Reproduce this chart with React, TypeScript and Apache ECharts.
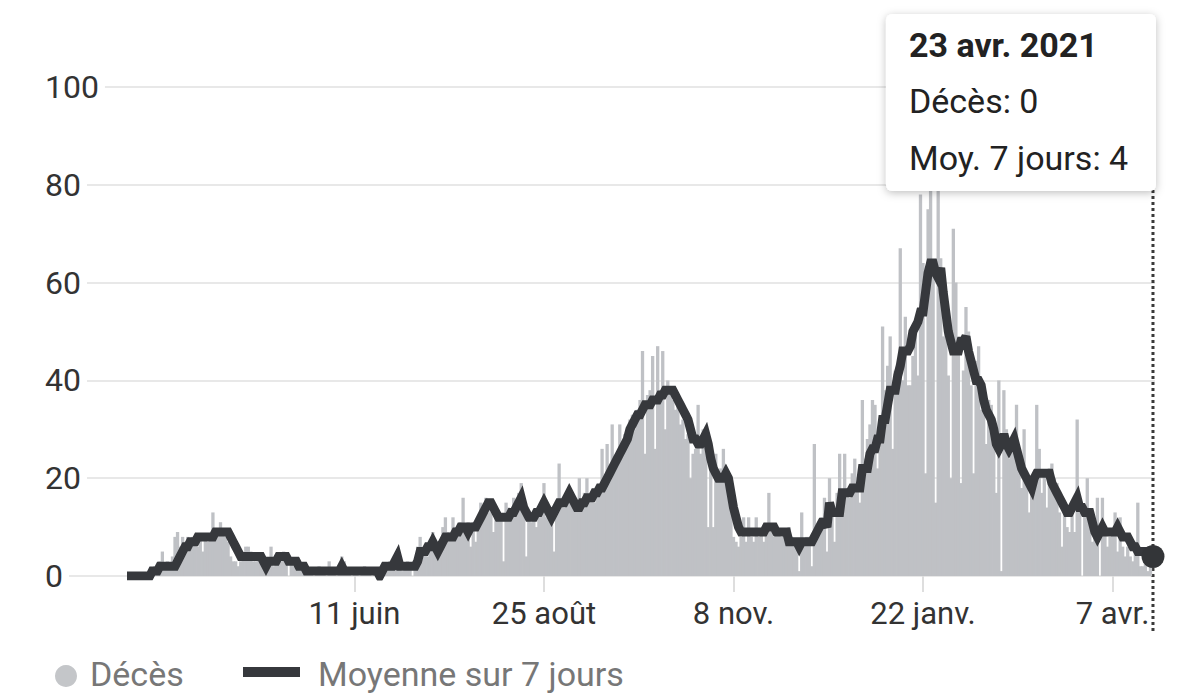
import React, { useEffect, useRef } from "react";
import * as echarts from "echarts";

// ---- data ----
const START_DATE = "2020-03-13";

const DAILY_DEATHS = [
  0, 0, 0, 0, 0, 0, 0, 0, 0, 0,
  1, 2, 1, 3, 5, 2, 3, 2, 4, 8,
  9, 6, 8, 7, 8, 7, 8, 7, 6, 8,
  5, 8, 7, 8, 13, 8, 9, 11, 9, 8,
  7, 4, 3, 3, 2, 3, 4, 6, 6, 5,
  3, 3, 4, 3, 2, 1, 3, 6, 2, 3,
  4, 3, 5, 3, 0, 3, 2, 3, 2, 2,
  1, 2, 1, 1, 0, 1, 2, 1, 1, 0,
  3, 1, 1, 0, 1, 4, 3, 1, 1, 0,
  1, 1, 0, 1, 2, 1, 1, 0, 1, 0,
  0, 2, 1, 2, 3, 2, 4, 5, 2, 1,
  2, 3, 2, 0, 3, 6, 8, 5, 6, 4,
  7, 9, 5, 6, 7, 10, 12, 9, 8, 12,
  10, 9, 11, 16, 10, 11, 6, 11, 7, 12,
  15, 14, 16, 13, 15, 9, 14, 13, 12, 3,
  15, 14, 12, 16, 14, 17, 19, 15, 4, 13,
  11, 12, 10, 14, 13, 19, 12, 14, 13, 5,
  14, 23, 15, 14, 16, 18, 15, 16, 14, 20,
  15, 17, 20, 16, 17, 15, 18, 17, 26, 19,
  27, 22, 31, 24, 25, 31, 27, 29, 30, 32,
  33, 30, 34, 36, 46, 25, 37, 38, 45, 26,
  47, 38, 46, 30, 40, 38, 36, 34, 37, 31,
  32, 28, 29, 20, 25, 26, 35, 25, 30, 27,
  10, 22, 10, 25, 21, 22, 26, 19, 20, 15,
  8, 7, 6, 8, 12, 7, 12, 8, 7, 12,
  8, 9, 7, 10, 17, 9, 8, 10, 9, 8,
  9, 7, 10, 8, 7, 6, 1, 13, 7, 8,
  8, 2, 27, 10, 11, 12, 16, 5, 20, 15,
  7, 17, 25, 15, 25, 18, 16, 21, 24, 19,
  15, 36, 24, 28, 31, 36, 35, 22, 30, 51,
  38, 43, 49, 26, 42, 40, 67, 40, 53, 39,
  39, 45, 52, 41, 78, 64, 21, 75, 84, 62,
  15, 80, 65, 49, 55, 41, 20, 71, 60, 46,
  19, 42, 55, 50, 39, 21, 44, 47, 34, 38,
  27, 36, 35, 30, 17, 40, 1, 38, 30, 24,
  26, 28, 35, 24, 18, 30, 20, 13, 17, 20,
  35, 26, 17, 21, 14, 22, 23, 20, 19, 13,
  6, 15, 10, 9, 14, 9, 32, 13, 0, 14,
  20, 12, 7, 10, 16, 0, 16, 9, 6, 8,
  9, 13, 5, 12, 6, 4, 6, 4, 3, 7,
  15, 2, 2, 3, 1, 3, 0,
];

const AVG_7_DAYS = [
  0, 0, 0, 0, 0, 0, 0, 0, 0, 0,
  1, 1, 1, 2, 2, 2, 2, 2, 2, 2,
  3, 4, 5, 6, 6, 7, 7, 7, 8, 8,
  8, 8, 8, 8, 8, 9, 9, 9, 9, 9,
  9, 8, 7, 6, 5, 4, 4, 4, 4, 4,
  4, 4, 4, 4, 3, 2, 3, 3, 3, 3,
  4, 4, 4, 4, 3, 3, 3, 3, 2, 2,
  2, 1, 1, 1, 1, 1, 1, 1, 1, 1,
  1, 1, 1, 1, 1, 2, 1, 1, 1, 1,
  1, 1, 1, 1, 1, 1, 1, 1, 1, 1,
  0, 1, 2, 2, 2, 2, 3, 4, 2, 2,
  2, 2, 2, 2, 2, 3, 5, 5, 5, 6,
  6, 7, 6, 5, 6, 7, 8, 8, 8, 8,
  9, 9, 10, 10, 10, 9, 10, 10, 10, 11,
  12, 13, 14, 15, 15, 14, 13, 12, 12, 12,
  12, 12, 13, 13, 14, 15, 16, 14, 13, 12,
  12, 12, 13, 13, 14, 15, 14, 13, 12, 13,
  14, 15, 15, 15, 16, 17, 16, 15, 14, 14,
  15, 15, 16, 16, 16, 17, 17, 18, 18, 19,
  20, 21, 22, 23, 24, 25, 26, 27, 28, 30,
  31, 32, 33, 33, 34, 35, 35, 35, 36, 36,
  36, 37, 37, 38, 38, 38, 38, 37, 36, 35,
  34, 33, 32, 30, 28, 28, 27, 27, 28, 29,
  27, 24, 22, 21, 20, 20, 20, 21, 20, 17,
  14, 12, 10, 9, 9, 9, 9, 9, 9, 9,
  9, 9, 9, 10, 10, 10, 10, 9, 9, 9,
  9, 9, 7, 7, 7, 7, 6, 7, 7, 7,
  7, 7, 8, 9, 10, 11, 11, 10, 15, 13,
  13, 13, 13, 17, 17, 17, 17, 18, 18, 18,
  18, 22, 22, 22, 25, 26, 26, 28, 28, 32,
  32, 35, 38, 38, 38, 41, 43, 46, 46, 46,
  47, 50, 51, 52, 54, 54, 58, 62, 64, 64,
  62, 61, 63, 58, 54, 50, 48, 46, 46, 46,
  48, 48, 49, 46, 44, 42, 40, 40, 39, 36,
  34, 33, 32, 30, 27, 26, 27, 29, 27, 26,
  27, 28, 26, 24, 22, 21, 20, 19, 18, 20,
  21, 21, 21, 21, 21, 21, 19, 18, 17, 16,
  15, 14, 13, 13, 14, 15, 16, 14, 14, 13,
  13, 13, 11, 9, 8, 9, 10, 9, 9, 9,
  9, 9, 10, 9, 8, 8, 8, 7, 6, 6,
  5, 5, 5, 5, 5, 5, 4,
];

const TICK_DATES = ["2020-06-11", "2020-08-25", "2020-11-08", "2021-01-22", "2021-04-07"];
const TICK_LABELS = ["11 juin", "25 août", "8 nov.", "22 janv.", "7 avr."];
const MONTHS_FR = ["janv.", "févr.", "mars", "avr.", "mai", "juin", "juil.", "août", "sept.", "oct.", "nov.", "déc."];
const SERIES_NAMES = ["Décès", "Moyenne sur 7 jours"];
const TOOLTIP_LABELS = ["Décès", "Moy. 7 jours"];

// ---- helpers ----
const DAY_MS = 86400000;
const startMs = Date.parse(START_DATE + "T00:00:00Z");
const dayIndex = (iso: string) => Math.round((Date.parse(iso + "T00:00:00Z") - startMs) / DAY_MS);
const TICK_DAYS = TICK_DATES.map(dayIndex);
const formatFr = (idx: number) => {
  const d = new Date(startMs + idx * DAY_MS);
  return `${d.getUTCDate()} ${MONTHS_FR[d.getUTCMonth()]} ${d.getUTCFullYear()}`;
};

const FONT = 'Roboto, "Noto Sans", sans-serif';
const BAR_COLOR = "#bfc1c5";
const LINE_COLOR = "#36383c";

export default function App() {
  const ref = useRef<HTMLDivElement | null>(null);

  useEffect(() => {
    if (!ref.current) return;
    const chart = echarts.init(ref.current, undefined, { renderer: "svg" });
    const last = DAILY_DEATHS.length - 1;

    const option: any = {
      animation: false,
      backgroundColor: "#ffffff",
      textStyle: { fontFamily: FONT },
      grid: { left: 45, right: 45, top: 87, bottom: 121, containLabel: false },
      xAxis: {
        type: "value",
        min: -32.45,
        max: 406.8,
        axisLine: { show: false },
        splitLine: { show: false },
        axisTick: {
          show: true,
          customValues: TICK_DAYS,
          length: 16,
          lineStyle: { color: "#dedede", width: 2 },
        },
        axisLabel: {
          customValues: TICK_DAYS,
          formatter: (v: number) => {
            const i = TICK_DAYS.indexOf(Math.round(v));
            return i >= 0 ? TICK_LABELS[i] : "";
          },
          fontSize: 31,
          color: "#333333",
          fontFamily: FONT,
          margin: 22,
        },
      },
      yAxis: {
        type: "value",
        min: 0,
        max: 100,
        interval: 20,
        axisLine: { show: false },
        axisTick: { show: false },
        splitLine: { show: true, lineStyle: { color: "#e8e8e8", width: 2 } },
        axisLabel: {
          inside: true,
          margin: 0,
          fontSize: 32,
          color: "#333333",
          fontFamily: FONT,
          backgroundColor: "#ffffff",
          padding: [2, 6, 2, 0],
          verticalAlign: "middle",
        },
      },
      series: [
        {
          name: SERIES_NAMES[0],
          type: "bar",
          data: DAILY_DEATHS.map((v, i) => [i, v]),
          barWidth: 3.3,
          itemStyle: { color: BAR_COLOR },
          z: 2,
        },
        {
          name: SERIES_NAMES[1],
          type: "line",
          data: AVG_7_DAYS.map((v, i) => [i, v]),
          showSymbol: false,
          lineStyle: { color: LINE_COLOR, width: 9, join: "miter", miterLimit: 3 },
          z: 3,
        },
        {
          type: "scatter",
          data: [[last, AVG_7_DAYS[last]]],
          symbolSize: 23,
          itemStyle: { color: "#333538", opacity: 1 },
          z: 4,
        },
      ],
    };
    chart.setOption(option);

    const px = chart.convertToPixel({ xAxisIndex: 0 }, last) as number;
    const boxW = 270;
    const boxRight = px + 3;
    const boxLeft = boxRight - boxW;

    chart.setOption({
      graphic: [
        {
          type: "line",
          shape: { x1: px, y1: 190, x2: px, y2: 632 },
          style: { stroke: "#3a3a3a", lineWidth: 3, lineDash: [3, 3] },
          z: 1,
        },
        {
          type: "rect",
          shape: { x: boxLeft, y: 14, width: boxW, height: 177, r: 6 },
          style: {
            fill: "#ffffff",
            shadowBlur: 8,
            shadowColor: "rgba(0,0,0,0.25)",
            shadowOffsetY: 2,
          },
          z: 20,
        },
        {
          type: "text",
          x: boxLeft + 23,
          y: 45,
          style: {
            text: formatFr(last),
            font: `bold 34px ${FONT}`,
            fill: "#222222",
            verticalAlign: "middle",
          },
          z: 21,
        },
        {
          type: "text",
          x: boxLeft + 23,
          y: 101,
          style: {
            text: `${TOOLTIP_LABELS[0]}: ${DAILY_DEATHS[last]}`,
            font: `34px ${FONT}`,
            fill: "#222222",
            verticalAlign: "middle",
          },
          z: 21,
        },
        {
          type: "text",
          x: boxLeft + 23,
          y: 158,
          style: {
            text: `${TOOLTIP_LABELS[1]}: ${AVG_7_DAYS[last]}`,
            font: `34px ${FONT}`,
            fill: "#222222",
            verticalAlign: "middle",
          },
          z: 21,
        },
        // legend
        {
          type: "circle",
          shape: { cx: 66, cy: 676, r: 11 },
          style: { fill: "#c4c6c9" },
        },
        {
          type: "text",
          x: 90,
          y: 674,
          style: {
            text: SERIES_NAMES[0],
            font: `34px ${FONT}`,
            fill: "#777777",
            verticalAlign: "middle",
          },
        },
        {
          type: "rect",
          shape: { x: 243, y: 667, width: 57, height: 10 },
          style: { fill: LINE_COLOR },
        },
        {
          type: "text",
          x: 318,
          y: 674,
          style: {
            text: SERIES_NAMES[1],
            font: `34px ${FONT}`,
            fill: "#777777",
            verticalAlign: "middle",
          },
        },
      ],
    });

    return () => chart.dispose();
  }, []);

  return (
    <div
      ref={ref}
      style={{ position: "fixed", left: 0, top: 0, width: 1200, height: 697, background: "#fff" }}
    />
  );
}
